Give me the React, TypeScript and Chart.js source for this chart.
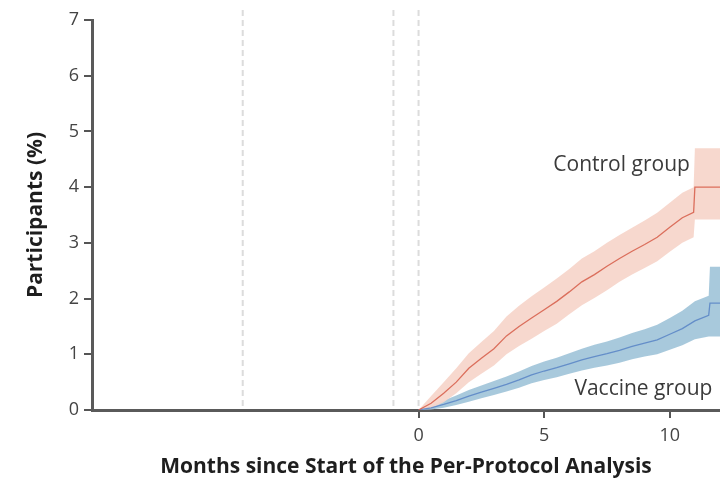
import React, { useEffect, useRef } from "react";
import { Chart, registerables } from "chart.js";

Chart.register(...registerables);

// Months since start of per-protocol analysis
const controlMonths = [0, 0.5, 1, 1.5, 2, 2.5, 3, 3.5, 4, 4.5, 5, 5.5, 6, 6.5, 7, 7.5, 8, 8.5, 9, 9.5, 10, 10.5, 10.95, 11.0, 12];
const controlPct = [0, 0.12, 0.3, 0.5, 0.75, 0.93, 1.1, 1.33, 1.5, 1.65, 1.8, 1.95, 2.12, 2.3, 2.43, 2.58, 2.72, 2.85, 2.97, 3.1, 3.28, 3.45, 3.55, 4.0, 4.0];
const controlUpper = [0, 0.25, 0.5, 0.75, 1.02, 1.22, 1.42, 1.68, 1.87, 2.04, 2.2, 2.36, 2.53, 2.72, 2.85, 3.0, 3.14, 3.27, 3.4, 3.54, 3.72, 3.9, 4.0, 4.7, 4.7];
const controlLower = [0, 0.03, 0.14, 0.3, 0.5, 0.65, 0.8, 1.0, 1.15, 1.28, 1.42, 1.55, 1.72, 1.88, 2.01, 2.15, 2.3, 2.43, 2.55, 2.67, 2.84, 3.0, 3.1, 3.42, 3.42];

const vaccineMonths = [0, 0.5, 1, 1.5, 2, 2.5, 3, 3.5, 4, 4.5, 5, 5.5, 6, 6.5, 7, 7.5, 8, 8.5, 9, 9.5, 10, 10.5, 11, 11.55, 11.6, 12];
const vaccinePct = [0, 0.04, 0.1, 0.17, 0.25, 0.32, 0.39, 0.46, 0.54, 0.63, 0.7, 0.76, 0.83, 0.9, 0.96, 1.01, 1.07, 1.14, 1.2, 1.26, 1.36, 1.46, 1.6, 1.7, 1.92, 1.92];
const vaccineUpper = [0, 0.08, 0.17, 0.26, 0.36, 0.44, 0.52, 0.6, 0.69, 0.79, 0.87, 0.94, 1.02, 1.1, 1.17, 1.23, 1.3, 1.38, 1.45, 1.53, 1.65, 1.78, 1.95, 2.05, 2.57, 2.57];
const vaccineLower = [0, 0.01, 0.04, 0.09, 0.15, 0.21, 0.27, 0.33, 0.4, 0.48, 0.54, 0.59, 0.65, 0.71, 0.76, 0.8, 0.85, 0.91, 0.96, 1.0, 1.08, 1.16, 1.27, 1.32, 1.32, 1.32];

const xTickValues = [0, 5, 10];
const referenceLines = [-7, -1, 0];
const groupLabels = [
  { text: "Control group", x: 10.8, y: 4.4 },
  { text: "Vaccine group", x: 11.7, y: 0.38 },
];

const FONT = "'Open Sans'";

const toPts = (xs: number[], ys: number[]) => xs.map((x, i) => ({ x, y: ys[i] }));

export default function App() {
  const ref = useRef<HTMLCanvasElement | null>(null);

  useEffect(() => {
    if (!ref.current) return;

    const refLinePlugin = {
      id: "refLines",
      beforeDatasetsDraw(chart: any) {
        const { ctx, chartArea, scales } = chart;
        ctx.save();
        ctx.strokeStyle = "#dcdcdc";
        ctx.lineWidth = 2;
        ctx.setLineDash([6, 4]);
        referenceLines.forEach((v) => {
          const px = scales.x.getPixelForValue(v);
          ctx.beginPath();
          ctx.moveTo(px, chartArea.top - 10);
          ctx.lineTo(px, chartArea.bottom);
          ctx.stroke();
        });
        ctx.restore();
      },
    };

    const labelPlugin = {
      id: "groupLabels",
      afterDatasetsDraw(chart: any) {
        const { ctx, scales } = chart;
        ctx.save();
        ctx.fillStyle = "#3a3a3a";
        ctx.font = `21px ${FONT}`;
        ctx.textAlign = "right";
        ctx.textBaseline = "middle";
        groupLabels.forEach((l) => {
          ctx.fillText(l.text, scales.x.getPixelForValue(l.x), scales.y.getPixelForValue(l.y));
        });
        ctx.restore();
      },
    };

    const band = (data: any[], fill: any, color?: string) => ({
      data,
      order: 2,
      borderWidth: 0,
      pointRadius: 0,
      tension: 0,
      fill,
      backgroundColor: color || "rgba(0,0,0,0)",
      borderColor: "rgba(0,0,0,0)",
    });

    const chart = new Chart(ref.current, {
      type: "line",
      data: {
        datasets: [
          { label: "Control upper", ...band(toPts(controlMonths, controlUpper), "+1", "rgba(247,214,203,0.95)") },
          { label: "Control lower", ...band(toPts(controlMonths, controlLower), false) },
          { label: "Vaccine upper", ...band(toPts(vaccineMonths, vaccineUpper), "+1", "rgba(163,198,218,0.95)") },
          { label: "Vaccine lower", ...band(toPts(vaccineMonths, vaccineLower), false) },
          {
            label: "Control group",
            order: 0,
            data: toPts(controlMonths, controlPct),
            borderWidth: 1.3,
            pointRadius: 0,
            fill: false,
            borderColor: "rgba(214,92,72,0.85)",
          },
          {
            label: "Vaccine group",
            order: 0,
            data: toPts(vaccineMonths, vaccinePct),
            borderWidth: 1.3,
            pointRadius: 0,
            fill: false,
            borderColor: "rgba(88,132,198,0.85)",
          },
        ],
      },
      options: {
        animation: false,
        responsive: true,
        maintainAspectRatio: false,
        layout: { padding: { top: 20, right: 0, left: 0, bottom: 0 } },
        plugins: {
          legend: { display: false },
          tooltip: { enabled: false },
        },
        scales: {
          x: {
            type: "linear",
            min: -13,
            max: 12,
            afterBuildTicks: (scale: any) => {
              scale.ticks = xTickValues.map((v) => ({ value: v }));
            },
            afterFit: (scale: any) => {
              scale.height = 84;
            },
            ticks: {
              color: "#444",
              font: { family: FONT, size: 18 },
              padding: 7,
              maxRotation: 0,
              autoSkip: false,
            },
            grid: {
              display: true,
              drawOnChartArea: false,
              drawTicks: true,
              tickLength: 8,
              color: "#555",
              lineWidth: 2,
            },
            border: { display: true, color: "#5a5a5a", width: 3 },
            title: {
              display: true,
              text: "Months since Start of the Per-Protocol Analysis",
              color: "#1e1e1e",
              font: { family: FONT, size: 21, weight: "bold" },
              padding: { top: 0, bottom: 14 },
            },
          },
          y: {
            type: "linear",
            min: 0,
            max: 7,
            afterFit: (scale: any) => {
              scale.width = 92;
            },
            ticks: {
              stepSize: 1,
              color: "#444",
              font: { family: FONT, size: 18 },
              padding: 5,
            },
            grid: {
              display: true,
              drawOnChartArea: false,
              drawTicks: true,
              tickLength: 8,
              color: "#555",
              lineWidth: 2,
            },
            border: { display: true, color: "#5a5a5a", width: 3 },
            title: {
              display: true,
              text: "Participants (%)",
              color: "#1e1e1e",
              font: { family: FONT, size: 21, weight: "bold" },
              padding: { top: 23, bottom: 0 },
            },
          },
        },
      },
      plugins: [refLinePlugin, labelPlugin],
    });

    return () => chart.destroy();
  }, []);

  return (
    <div style={{ position: "fixed", left: 0, top: 0, width: 720, height: 494, background: "#fff" }}>
      <canvas ref={ref} />
    </div>
  );
}
